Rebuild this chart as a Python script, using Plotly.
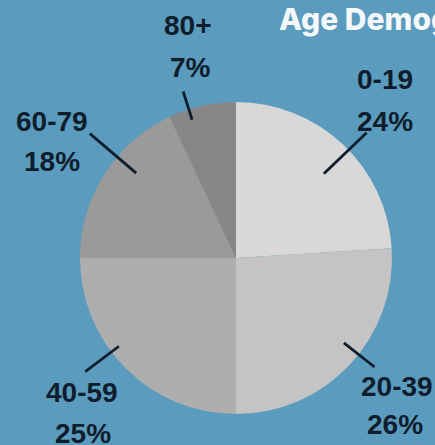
import math
import plotly.graph_objects as go

# ---- data ----
age_groups = ["0-19", "20-39", "40-59", "60-79", "80+"]
shares = [24, 26, 25, 18, 7]
slice_colors = ["#d8d8d8", "#c4c4c4", "#aeaeae", "#9a9a9a", "#878787"]
title_text = "Age Demographics"

# ---- layout constants ----
W, H = 435, 445
BG = "#5b9bbe"
INK = "#0f1d2c"
CX, CY, R = 236, 258, 156          # pie centre / radius in pixels
LINE_IN = [0.78, 0.88, 0.94, 0.84, 0.93]
LINE_OUT = [1.16, 1.13, 1.21, 1.23, 1.12]
LINE_SHIFT_DEG = [3, -5, 8, 8, -5]  # small angular offset of leader lines
# label text placement (pixel centres): name line, percent line
NAME_POS = [(385, 79), (397, 386), (82, 392), (52, 122), (188, 25)]
PCT_POS = [(385, 122), (395, 424), (83, 433), (52, 162), (190, 67)]

fig = go.Figure(go.Pie(
    labels=age_groups,
    values=shares,
    sort=False,
    direction="clockwise",
    rotation=0,
    marker=dict(colors=slice_colors, line=dict(width=0)),
    textinfo="none",
    hoverinfo="label+percent",
    showlegend=False,
    domain=dict(x=[(CX - R) / W, (CX + R) / W],
                y=[(H - CY - R) / H, (H - CY + R) / H]),
))

def px(x, y):
    return x / W, 1 - y / H

annotations = []
shapes = []
total = sum(shares)
cum = 0
label_font = dict(family="Liberation Sans, Arial", size=28, color=INK, weight="bold")
for i, (lab, v) in enumerate(zip(age_groups, shares)):
    mid = (cum + v / 2) / total * 2 * math.pi + math.radians(LINE_SHIFT_DEG[i])
    cum += v
    dx, dy = math.sin(mid), -math.cos(mid)
    x0, y0 = px(CX + dx * R * LINE_IN[i], CY + dy * R * LINE_IN[i])
    x1, y1 = px(CX + dx * R * LINE_OUT[i], CY + dy * R * LINE_OUT[i])
    shapes.append(dict(type="line", xref="paper", yref="paper",
                       x0=x0, y0=y0, x1=x1, y1=y1,
                       line=dict(color=INK, width=2.8)))
    pct = round(v / total * 100)
    for txt, (lx, ly) in ((lab, NAME_POS[i]), (f"{pct}%", PCT_POS[i])):
        ax, ay = px(lx, ly)
        annotations.append(dict(text=txt, x=ax, y=ay, xref="paper", yref="paper",
                                showarrow=False, xanchor="center", yanchor="middle",
                                font=label_font))

tx, ty = px(277, 19)
annotations.append(dict(text=title_text, x=tx, y=ty, xref="paper", yref="paper",
                        showarrow=False, xanchor="left", yanchor="middle",
                        font=dict(family="Inter, Lato", size=30,
                                  color="#f4f8fb", weight=800)))

fig.update_layout(
    width=W, height=H,
    margin=dict(l=0, r=0, t=0, b=0),
    paper_bgcolor=BG, plot_bgcolor=BG,
    annotations=annotations, shapes=shapes,
)

fig.write_html("out.html")
